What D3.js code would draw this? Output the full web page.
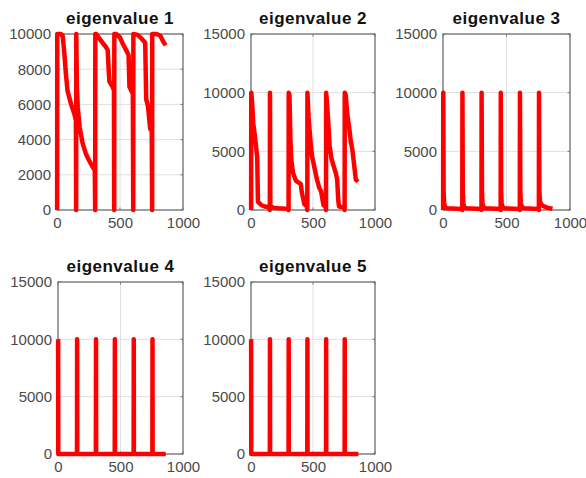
<!DOCTYPE html>
<html>
<head>
<meta charset="utf-8">
<script src="https://cdn.jsdelivr.net/npm/d3@7"></script>
<style>
  html, body { margin: 0; padding: 0; background: #ffffff; }
  svg { display: block; }
  .tick text { font-family: "Liberation Sans", Arial, sans-serif; font-size: 15px; fill: #4a4a4a; }
</style>
</head>
<body>
<svg id="chart" width="586" height="478"></svg>
<script>
// Panel titles and axis ticks
const titles = ["eigenvalue 1", "eigenvalue 2", "eigenvalue 3", "eigenvalue 4", "eigenvalue 5"];
const xTicks = [0, 500, 1000];
const yTicksFirst = [0, 2000, 4000, 6000, 8000, 10000];
const yTicksRest = [0, 5000, 10000, 15000];
const yMaxFirst = 10000;
const yMaxRest = 15000;

// Eigenvalue traces as [sample, value]; every reset restarts the estimate at 10000
const eig1 = [
  [1, 0], [2, 10000], [30, 10000], [45, 9900], [56, 9100], [70, 7800], [83, 6800],
  [110, 6050], [136, 5500], [150, 5100],
  [152, 0], [153, 10000], [158, 7000], [165, 5800], [180, 4700], [203, 3800],
  [229, 3200], [256, 2800], [283, 2450], [300, 2250],
  [303, 0], [304, 10000], [312, 10000], [336, 9750], [362, 9500], [389, 9250],
  [402, 9100], [410, 8000], [416, 7300], [442, 7000], [452, 6800],
  [454, 0], [455, 10000], [470, 10000], [500, 9800], [525, 9400], [555, 9000],
  [568, 8800], [575, 7000], [602, 6600],
  [605, 0], [606, 10000], [640, 9950], [670, 9750], [700, 9500], [708, 6300],
  [722, 5900], [740, 4600], [752, 4500],
  [755, 0], [756, 10000], [790, 10000], [820, 9900], [845, 9550], [862, 9350]
];

const eig2 = [
  [1, 0], [2, 10000], [10, 9000], [18, 7400], [30, 6400], [45, 5000], [50, 4500],
  [56, 700], [82, 430], [110, 300], [136, 250], [150, 200],
  [152, 0], [153, 10000], [156, 300], [180, 200], [220, 150], [260, 120], [300, 100],
  [303, 0], [304, 10000], [310, 9800], [318, 6000], [325, 4300], [338, 3200],
  [362, 2500], [402, 2200], [410, 1500], [418, 1100], [430, 500], [450, 300],
  [454, 0], [455, 10000], [464, 8000], [478, 6000], [492, 4600], [512, 3600],
  [532, 2600], [550, 1900], [565, 1600], [575, 1000], [585, 400], [602, 300],
  [605, 0], [606, 10000], [614, 9000], [634, 5500], [650, 4300], [665, 3800],
  [685, 3100], [695, 2600], [704, 800], [710, 300], [752, 200],
  [755, 0], [756, 10000], [764, 9800], [778, 8000], [792, 7000], [804, 5900],
  [818, 5100], [830, 4000], [845, 2600], [862, 2400]
];

const eig3 = [
  [1, 0], [2, 10000], [5, 1500], [9, 600], [16, 300], [32, 150], [150, 80],
  [152, 0], [153, 10000], [156, 1500], [160, 600], [167, 300], [183, 150], [300, 80],
  [303, 0], [304, 10000], [307, 1500], [311, 600], [318, 300], [334, 150], [452, 80],
  [454, 0], [455, 10000], [458, 1500], [462, 600], [469, 300], [485, 150], [602, 80],
  [605, 0], [606, 10000], [609, 1500], [613, 600], [620, 300], [636, 150], [752, 80],
  [755, 0], [756, 10000], [759, 1500], [764, 700], [775, 450], [795, 300],
  [825, 180], [862, 100]
];

const eig4 = [
  [1, 10000], [2, 0],
  [152, 0], [153, 10000], [154, 0],
  [303, 0], [304, 10000], [305, 0],
  [454, 0], [455, 10000], [456, 0],
  [605, 0], [606, 10000], [607, 0],
  [755, 0], [756, 10000], [757, 0], [862, 0]
];

const eig5 = [
  [1, 10000], [2, 0],
  [152, 0], [153, 10000], [154, 0],
  [303, 0], [304, 10000], [305, 0],
  [454, 0], [455, 10000], [456, 0],
  [605, 0], [606, 10000], [607, 0],
  [755, 0], [756, 10000], [757, 0], [866, 0]
];

const series = [eig1, eig2, eig3, eig4, eig5];

// Subplot grid (2 rows x 3 columns); boxes are [left, top, right, bottom]
const boxes = [
  [57, 34, 183, 210],
  [251, 34, 375, 210],
  [443, 34, 570, 210],
  [58, 282, 183, 454],
  [251, 282, 375, 454]
];

const svg = d3.select("#chart");
const font = '"Liberation Sans", Arial, sans-serif';

series.forEach((data, i) => {
  const [x0, y0, x1, y1] = boxes[i];
  const yMax = i === 0 ? yMaxFirst : yMaxRest;
  const yTicks = i === 0 ? yTicksFirst : yTicksRest;

  const x = d3.scaleLinear().domain([0, 1000]).range([x0, x1]);
  const y = d3.scaleLinear().domain([0, yMax]).range([y1, y0]);

  const g = svg.append("g");

  // white plot area
  g.append("rect")
    .attr("x", x0).attr("y", y0)
    .attr("width", x1 - x0).attr("height", y1 - y0)
    .attr("fill", "#fff");

  // grid
  g.append("g").selectAll("line").data(xTicks).join("line")
    .attr("x1", d => x(d)).attr("x2", d => x(d))
    .attr("y1", y0).attr("y2", y1)
    .attr("stroke", "#e0e0e0").attr("stroke-width", 1);
  g.append("g").selectAll("line").data(yTicks).join("line")
    .attr("x1", x0).attr("x2", x1)
    .attr("y1", d => y(d)).attr("y2", d => y(d))
    .attr("stroke", "#e0e0e0").attr("stroke-width", 1);

  // inward tick marks on all four sides
  const tk = 2.5;
  const ticks = g.append("g").attr("stroke", "#777").attr("stroke-width", 1);
  xTicks.forEach(t => {
    ticks.append("line").attr("x1", x(t)).attr("x2", x(t)).attr("y1", y1).attr("y2", y1 - tk);
    ticks.append("line").attr("x1", x(t)).attr("x2", x(t)).attr("y1", y0).attr("y2", y0 + tk);
  });
  yTicks.forEach(t => {
    ticks.append("line").attr("x1", x0).attr("x2", x0 + tk).attr("y1", y(t)).attr("y2", y(t));
    ticks.append("line").attr("x1", x1).attr("x2", x1 - tk).attr("y1", y(t)).attr("y2", y(t));
  });

  // axes box
  g.append("rect")
    .attr("x", x0).attr("y", y0)
    .attr("width", x1 - x0).attr("height", y1 - y0)
    .attr("fill", "none").attr("stroke", "#737373").attr("stroke-width", 1.3);

  // tick labels via d3 axes
  const ax = g.append("g").attr("transform", `translate(0,${y1})`)
    .call(d3.axisBottom(x).tickValues(xTicks).tickSize(0).tickPadding(7).tickFormat(d3.format("d")));
  ax.select(".domain").remove();

  const ay = g.append("g").attr("transform", `translate(${x0},0)`)
    .call(d3.axisLeft(y).tickValues(yTicks).tickSize(0).tickPadding(6).tickFormat(d3.format("d")));
  ay.select(".domain").remove();

  // data line (stroke is allowed to spill over the box edge)
  const line = d3.line().x(d => x(d[0])).y(d => y(d[1]));
  g.append("path")
    .datum(data)
    .attr("d", line)
    .attr("fill", "none")
    .attr("stroke", "#ff0000")
    .attr("stroke-width", 4.5)
    .attr("stroke-linejoin", "round")
    .attr("stroke-linecap", "butt");

  // title
  g.append("text")
    .attr("x", (x0 + x1) / 2).attr("y", y0 - 10)
    .attr("text-anchor", "middle")
    .attr("font-family", font)
    .attr("font-size", 17).attr("font-weight", "bold")
    .attr("letter-spacing", 0.5)
    .attr("fill", "#111")
    .text(titles[i]);
});
</script>
</body>
</html>
